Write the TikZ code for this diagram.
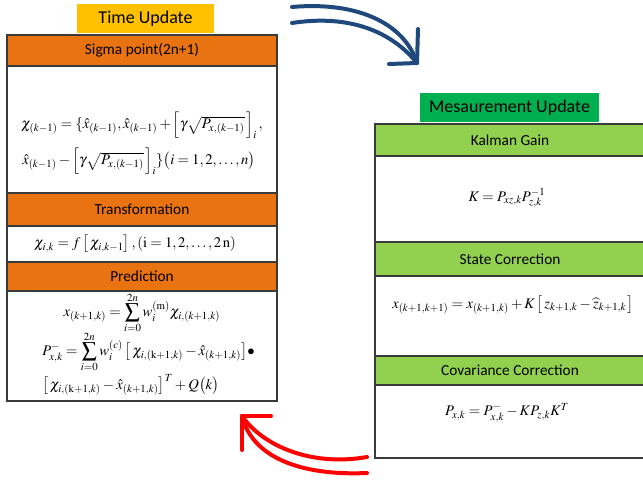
\documentclass[tikz,border=0pt]{standalone}
\usepackage{mathptmx}
\usepackage[no-math]{fontspec}
\setsansfont{Carlito}
\definecolor{hdrorange}{HTML}{E97311}
\definecolor{tuyellow}{HTML}{FFC000}
\definecolor{mugreen}{HTML}{00B050}
\definecolor{hdrgreen}{HTML}{92D050}
\definecolor{arrowblue}{HTML}{1F497D}
\definecolor{boxline}{HTML}{3A3A3A}
\tikzset{
  frame/.style={draw=boxline, line width=0.9pt},
  hdrtext/.style={font=\sffamily\fontsize{11.5}{13}\selectfont, inner sep=0pt},
  titletext/.style={font=\sffamily\fontsize{13.5}{15}\selectfont, inner sep=0pt},
  eq/.style={inner sep=0pt, font=\fontsize{11}{13}\selectfont},
  bigarrow/.style={line width=3pt, line cap=round, line join=round}
}
\begin{document}
\begin{tikzpicture}[x=0.75pt,y=-0.75pt]
\useasboundingbox (0,0) rectangle (643,479);

% ---------------- Time update (left) ----------------
\fill[tuyellow] (77,4) rectangle (214,33);
\node[titletext] (tutitle) at (145.5,19) {Time Update};

\draw[frame, fill=white] (7,35) rectangle (277,401);
\filldraw[frame, fill=hdrorange] (7,35) rectangle (277,66);
\filldraw[frame, fill=hdrorange] (7,193) rectangle (277,226);
\filldraw[frame, fill=hdrorange] (7,262) rectangle (277,291);
\draw[frame] (7,35) rectangle (277,401);

\node[hdrtext] (sigH) at (142,50.5) {Sigma point(2n+1)};
\node[hdrtext] (trH) at (142,209.5) {Transformation};
\node[hdrtext] (prH) at (142,276.5) {Prediction};

\node[eq, anchor=west] (sig1) at (21,125)
  {$\chi_{(k-1)}=\{\hat{x}_{(k-1)},\hat{x}_{(k-1)}+\left[\gamma\sqrt{P_{x,(k-1)}}\,\right]_i,$};
\node[eq, anchor=west] (sig2) at (22,161)
  {$\hat{x}_{(k-1)}-\left[\gamma\sqrt{P_{x,(k-1)}}\,\right]_i\}\bigl(i=1,2,\ldots,n\bigr)$};

\node[eq] (tr1) at (135,244)
  {$\chi_{i,k}=f\left[\,\chi_{i,k-1}\right],(\mathrm{i}=1,2,\ldots,2\,\mathrm{n})$};

\node[eq] (pr1) at (142,313)
  {$x_{(k+1,k)}=\displaystyle\sum_{i=0}^{2n}w_i^{(\mathrm{m})}\chi_{i,(k+1,k)}$};
\node[eq, anchor=west] (pr2) at (42,352)
  {$P^{-}_{x,k}=\displaystyle\sum_{i=0}^{2n}w_i^{(c)}\left[\,\chi_{i,(\mathrm{k}+1,k)}-\hat{x}_{(k+1,k)}\right]\!\bullet$};
\node[eq, anchor=west] (pr3) at (42,385)
  {$\left[\,\chi_{i,(\mathrm{k}+1,k)}-\hat{x}_{(k+1,k)}\right]^T+Q\bigl(k\bigr)$};

% ---------------- Measurement update (right) ----------------
\fill[mugreen] (420,93) rectangle (599,122);
\node[titletext] (mutitle) at (509.5,107.5) {Mesaurement Update};

\draw[frame, fill=white] (375,124) rectangle (652,458);
\filldraw[frame, fill=hdrgreen] (375,124) rectangle (652,156);
\filldraw[frame, fill=hdrgreen] (375,242) rectangle (652,276);
\filldraw[frame, fill=hdrgreen] (375,356) rectangle (652,385);
\draw[frame] (375,124) rectangle (652,458);

\node[hdrtext] (kgH) at (510,140) {Kalman Gain};
\node[hdrtext] (scH) at (510,259) {State Correction};
\node[hdrtext] (ccH) at (510,370.5) {Covariance Correction};

\node[eq] (kg1) at (507,198) {$K=P_{xz,k}P^{-1}_{z,k}$};
\node[eq, anchor=west] (sc1) at (392,305)
  {$x_{(k+1,k+1)}=x_{(k+1,k)}+K\left[\,z_{k+1,k}-\widehat{z}_{k+1,k}\,\right]$};
\node[eq] (cc1) at (507,413) {$P_{x,k}=P^{-}_{x,k}-KP_{z,k}K^{T}$};

% ---------------- arrows ----------------
\coordinate (bA) at (292,7);
\coordinate (bB) at (292,23);
\coordinate (bTip) at (417,63);
\coordinate (bH1) at (418,29);
\coordinate (bH2) at (389,64);
\draw[bigarrow, arrowblue] (bA) .. controls (360,1) and (405,25) .. (bTip);
\draw[bigarrow, arrowblue] (bB) .. controls (350,14) and (392,32) .. (bTip);
\draw[bigarrow, arrowblue] (bH1) -- (bTip) -- (bH2);

\coordinate (rA) at (367,457);
\coordinate (rB) at (367,473);
\coordinate (rTip) at (242,416);
\coordinate (rH1) at (271,416);
\coordinate (rH2) at (242,450);
\draw[bigarrow, red] (rA) .. controls (310,467) and (262,445) .. (rTip);
\draw[bigarrow, red] (rB) .. controls (300,476) and (252,457) .. (rTip);
\draw[bigarrow, red] (rH1) -- (rTip) -- (rH2);
\end{tikzpicture}
\end{document}
